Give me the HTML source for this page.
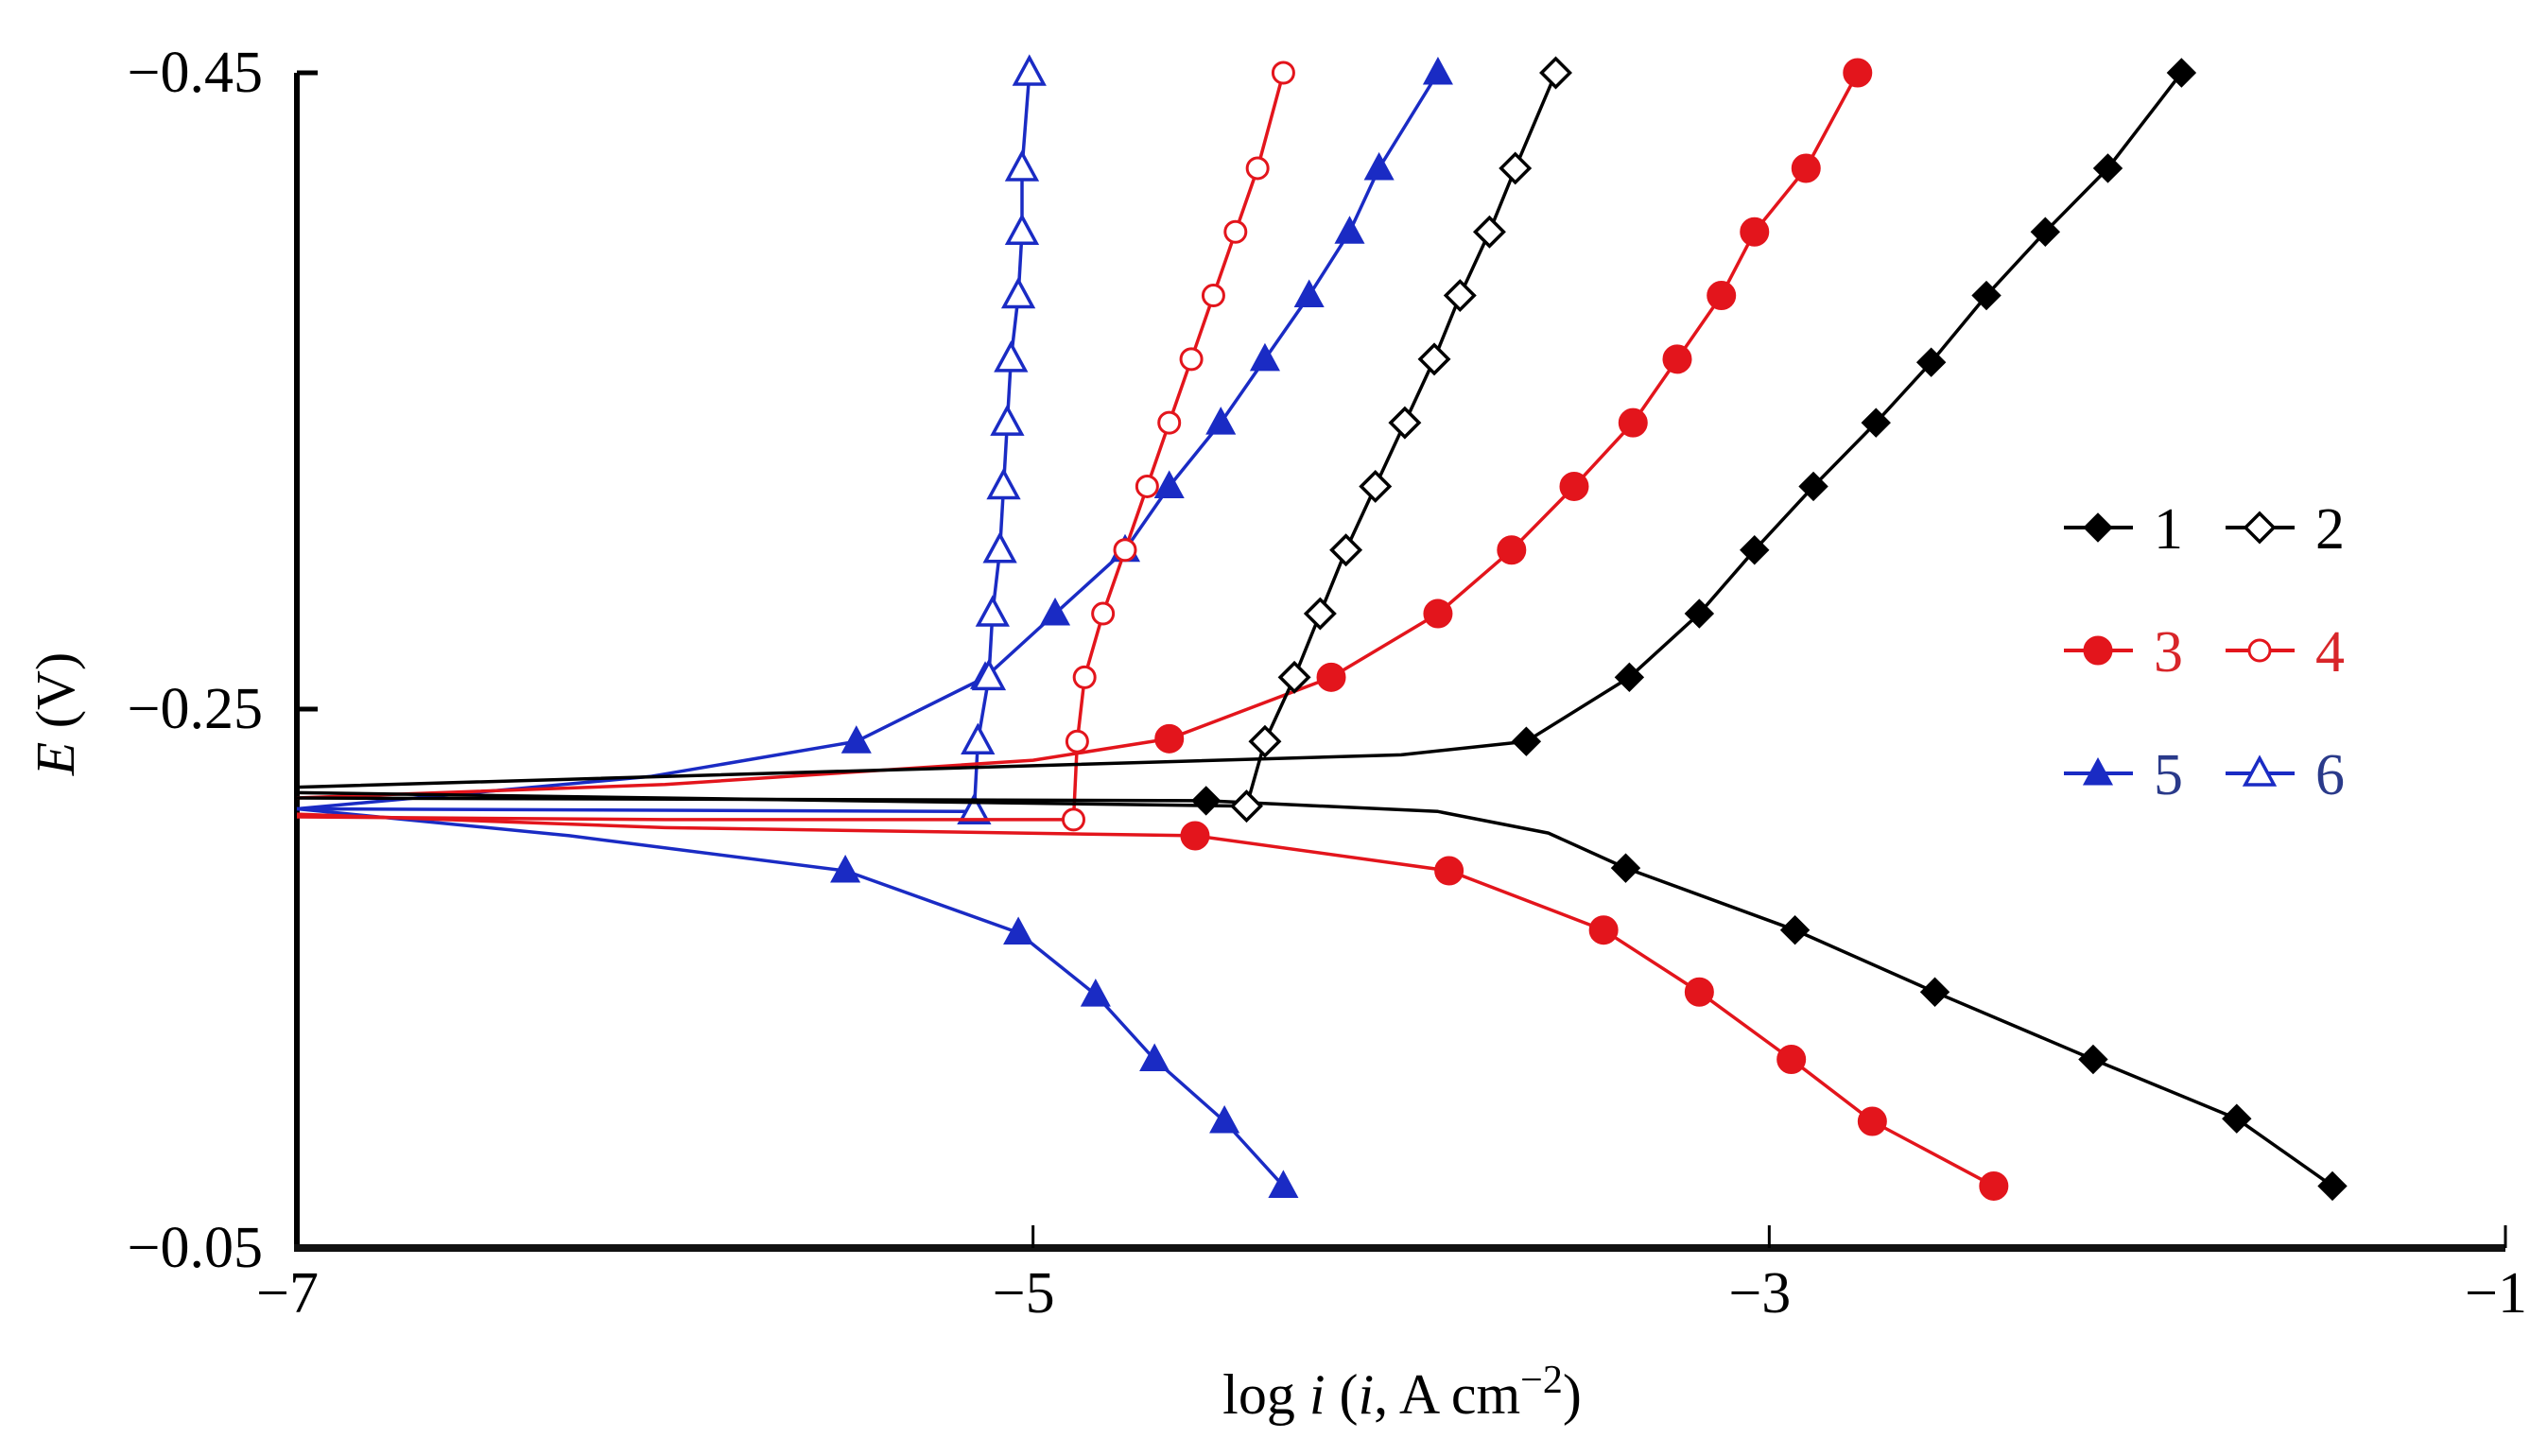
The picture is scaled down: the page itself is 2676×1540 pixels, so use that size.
<!DOCTYPE html>
<html><head><meta charset="utf-8"><style>
html,body{margin:0;padding:0;background:#fff;}
svg{display:block;font-family:"Liberation Serif",serif;}
</style></head><body>
<svg id="chart" width="2676" height="1540" viewBox="0 0 2676 1540">
<g id="axes"></g>
<g id="series"></g>
<g id="legend"></g>
</svg>
<script>
const xTicks=[-7,-5,-3,-1];
const yTicks=[-0.45,-0.25,-0.05];
const xTickLabels=["\u22127","\u22125","\u22123","\u22121"];
const yTickLabels=["\u22120.45","\u22120.25","\u22120.05"];
// series 1 (filled diamond, black)
const s1x=[-7,-5,-4,-3.66,-3.38,-3.19,-3.04,-2.88,-2.71,-2.56,-2.41,-2.25,-2.08,-1.88];
const s1e=[-0.221,-0.229,-0.233,-0.238,-0.26,-0.28,-0.30,-0.32,-0.34,-0.359,-0.38,-0.40,-0.42,-0.45];
const s1m=[0,0,0,1,1,1,1,1,1,1,1,1,1,1];
const s1cx=[-7,-4.53,-3.9,-3.6,-3.39,-2.93,-2.55,-2.12,-1.73,-1.47];
const s1ce=[-0.217,-0.216,-0.212,-0.204,-0.191,-0.168,-0.145,-0.120,-0.098,-0.073];
const s1cm=[0,1,0,0,1,1,1,1,1,1];
// series 2 (open diamond, black)
const s2x=[-7,-5.5,-4.42,-4.37,-4.29,-4.22,-4.15,-4.07,-3.99,-3.91,-3.84,-3.76,-3.69,-3.58];
const s2e=[-0.219,-0.216,-0.214,-0.238,-0.26,-0.28,-0.30,-0.32,-0.34,-0.36,-0.38,-0.40,-0.42,-0.45];
const s2m=[0,0,1,1,1,1,1,1,1,1,1,1,1,1];
// series 3 (filled circle, red)
const s3x=[-7,-6,-5,-4.63,-4.19,-3.90,-3.70,-3.53,-3.37,-3.25,-3.13,-3.04,-2.90,-2.76];
const s3e=[-0.217,-0.222,-0.231,-0.239,-0.26,-0.28,-0.30,-0.32,-0.34,-0.36,-0.38,-0.40,-0.42,-0.45];
const s3m=[0,0,0,1,1,1,1,1,1,1,1,1,1,1];
const s3cx=[-7,-6,-4.56,-3.87,-3.45,-3.19,-2.94,-2.72,-2.39];
const s3ce=[-0.211,-0.206,-0.203,-0.190,-0.168,-0.145,-0.120,-0.097,-0.073];
const s3cm=[0,0,1,1,1,1,1,1,1];
// series 4 (open circle, red)
const s4x=[-7,-6,-4.89,-4.88,-4.86,-4.81,-4.75,-4.69,-4.63,-4.57,-4.51,-4.45,-4.39,-4.32];
const s4e=[-0.210,-0.209,-0.209,-0.238,-0.26,-0.28,-0.30,-0.32,-0.34,-0.36,-0.38,-0.40,-0.42,-0.45];
const s4m=[0,0,1,1,1,1,1,1,1,1,1,1,1,1];
// series 5 (filled triangle, blue)
const s5x=[-7,-6.04,-5.48,-5.13,-4.94,-4.75,-4.63,-4.49,-4.37,-4.25,-4.14,-4.06,-3.90];
const s5e=[-0.213,-0.225,-0.238,-0.26,-0.28,-0.30,-0.32,-0.34,-0.36,-0.38,-0.40,-0.42,-0.45];
const s5m=[0,0,1,1,1,1,1,1,1,1,1,1,1];
const s5cx=[-7,-6.26,-5.51,-5.04,-4.83,-4.67,-4.48,-4.32];
const s5ce=[-0.213,-0.203,-0.190,-0.167,-0.144,-0.120,-0.097,-0.073];
const s5cm=[0,0,1,1,1,1,1,1];
// series 6 (open triangle, blue)
const s6x=[-7,-5.16,-5.15,-5.12,-5.11,-5.09,-5.08,-5.07,-5.06,-5.04,-5.03,-5.03,-5.01];
const s6e=[-0.213,-0.212,-0.238,-0.26,-0.28,-0.30,-0.32,-0.34,-0.36,-0.38,-0.40,-0.42,-0.45];
const s6m=[0,1,1,1,1,1,1,1,1,1,1,1,1];

const NS="http://www.w3.org/2000/svg";
const X0=314,X1=2650,Y45=77,Y25=750,Y05=1320;
function xs(v){return X0+(v+7)/6*(X1-X0);}
function ys(e){return e<=-0.25? Y45+(e+0.45)/0.2*(Y25-Y45) : Y25+(e+0.25)/0.2*(Y05-Y25);}
function mk(tag,attrs,parent){const el=document.createElementNS(NS,tag);for(const k in attrs)el.setAttribute(k,attrs[k]);parent.appendChild(el);return el;}
const axes=document.getElementById('axes'),ser=document.getElementById('series'),leg=document.getElementById('legend');

let a=mk('line',{x1:X0,y1:Y45,x2:X0,y2:Y05,stroke:'#000','stroke-width':6},axes);


a=mk('line',{x1:X0-3,y1:Y05,x2:X1,y2:Y05,stroke:'#111','stroke-width':8},axes);


yTicks.forEach((t,i)=>{
  const y=ys(t);
  if(i<2){const tk=mk('line',{x1:X0,y1:y,x2:X0+22,y2:y,stroke:'#000','stroke-width':5},axes);
  
  }
  const tx=mk('text',{x:X0-36,y:y+20,'text-anchor':'end','font-size':62},axes);
  tx.textContent=yTickLabels[i];
  
  
});
xTicks.forEach((t,i)=>{
  const x=xs(t);
  if(i>0){const tk=mk('line',{x1:x,y1:Y05,x2:x,y2:Y05-24,stroke:'#000','stroke-width':3},axes);
  
  }
  const tx=mk('text',{x:x-10,y:1388,'text-anchor':'middle','font-size':62},axes);
  tx.textContent=xTickLabels[i];
  
  
});
let t=mk('text',{x:1483,y:1495,'text-anchor':'middle','font-size':60},axes);
t.innerHTML='log <tspan font-style="italic">i</tspan>  (<tspan font-style="italic">i</tspan>, A cm<tspan dy="-22" font-size="42">\u22122</tspan><tspan dy="22">)</tspan>';


t=mk('text',{x:0,y:0,'text-anchor':'middle','font-size':58,transform:'translate(78,755) rotate(-90)'},axes);
t.innerHTML='<tspan font-style="italic">E</tspan> (V)';



function marker(kind,color,x,y,parent){
  let el;
  if(kind==='dia'||kind==='odia'){
    const r=15;el=mk('polygon',{points:`${x},${y-r} ${x+r},${y} ${x},${y+r} ${x-r},${y}`,fill:kind==='dia'?color:'#fff',stroke:color,'stroke-width':kind==='dia'?1:3.5},parent);
  }else if(kind==='cir'||kind==='ocir'){
    el=mk('circle',{cx:x,cy:y,r:kind==='cir'?15:11,fill:kind==='cir'?color:'#fff',stroke:color,'stroke-width':kind==='cir'?1:3},parent);
  }else{
    const r=16;el=mk('polygon',{points:`${x},${y-r} ${x+r*0.95},${y+r*0.75} ${x-r*0.95},${y+r*0.75}`,fill:kind==='tri'?color:'#fff',stroke:color,'stroke-width':kind==='tri'?1:3.5},parent);
  }
  return el;
}
function drawSeries(xa,ea,ma,color,kind,name){
  const g=mk('g',{},ser);
  
  
  const pts=xa.map((v,i)=>xs(v).toFixed(1)+','+ys(ea[i]).toFixed(1)).join(' ');
  const pl=mk('polyline',{points:pts,fill:'none',stroke:color,'stroke-width':3.5,'stroke-linejoin':'round'},g);
  
  
  xa.forEach((v,i)=>{if(ma[i]){const m=marker(kind,color,xs(v),ys(ea[i]),g);
    
    }});
}
const BLK='#000',RED='#e3151c',BLU='#1a2bc4';
drawSeries(s5x,s5e,s5m,BLU,'tri','series-5-anodic');
drawSeries(s5cx,s5ce,s5cm,BLU,'tri','series-5-cathodic');
drawSeries(s6x,s6e,s6m,BLU,'otri','series-6');
drawSeries(s3x,s3e,s3m,RED,'cir','series-3-anodic');
drawSeries(s3cx,s3ce,s3cm,RED,'cir','series-3-cathodic');
drawSeries(s4x,s4e,s4m,RED,'ocir','series-4');
drawSeries(s1x,s1e,s1m,BLK,'dia','series-1-anodic');
drawSeries(s1cx,s1ce,s1cm,BLK,'dia','series-1-cathodic');
drawSeries(s2x,s2e,s2m,BLK,'odia','series-2');

const legLabels=["1","2","3","4","5","6"];
const legKinds=['dia','odia','cir','ocir','tri','otri'];
const legColors=[BLK,BLK,RED,RED,BLU,BLU];
const legTextColors=['#000','#000','#d8262a','#d8262a','#2a3a8a','#2a3a8a'];
legLabels.forEach((lb,i)=>{
  const col=i%2,row=Math.floor(i/2);
  const x0=2183+col*171,y=558+row*130;
  const g=mk('g',{},leg);
  
  
  mk('line',{x1:x0,y1:y,x2:x0+73,y2:y,stroke:legColors[i],'stroke-width':4},g);
  marker(legKinds[i],legColors[i],x0+36,y,g);
  const tx=mk('text',{x:x0+95,y:y+22,'font-size':62,fill:legTextColors[i]},g);
  tx.textContent=lb;
});
</script>
</body></html>
